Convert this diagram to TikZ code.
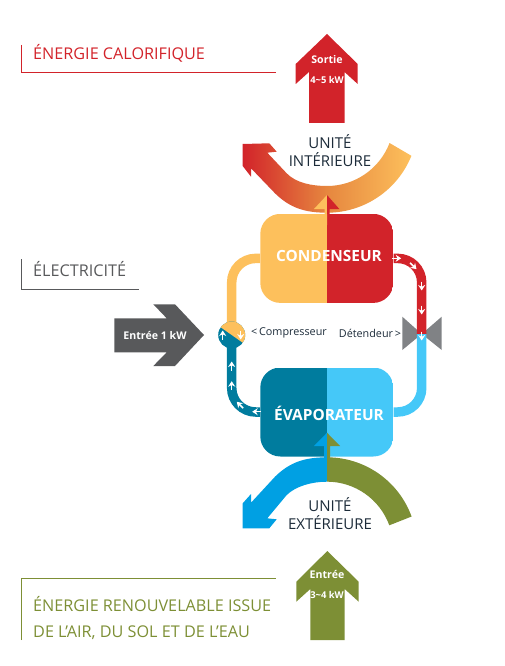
\documentclass[tikz,border=0pt]{standalone}
\usepackage{fontspec}
\setmainfont{Open Sans}
\usetikzlibrary{arrows.meta}

\definecolor{redpac}{HTML}{D2232A}
\definecolor{goldpac}{HTML}{FDC05C}
\definecolor{orangepac}{HTML}{E6873F}
\definecolor{tealpac}{HTML}{007C9E}
\definecolor{skypac}{HTML}{45C8F8}
\definecolor{bluepac}{HTML}{00A0E3}
\definecolor{olivepac}{HTML}{7D8F35}
\definecolor{greypac}{HTML}{58595B}
\definecolor{valvepac}{HTML}{808285}
\definecolor{inkpac}{HTML}{1C2B39}

\newcommand{\smallpower}{\fontsize{9.4}{19.5}\selectfont}

\tikzset{
  exchanger/.style n args={2}{minimum width=133pt,minimum height=89pt,inner sep=0pt,rounded corners=20pt,
    path picture={
      \fill[#1,sharp corners] (path picture bounding box.south west) rectangle (path picture bounding box.north);
      \fill[#2,sharp corners] (path picture bounding box.south) rectangle (path picture bounding box.north east);
    }},
  pipe/.style={line width=9.5pt,rounded corners=24pt},
  flowtip/.style={white,line width=1.5pt,-{Stealth[length=5.5pt,width=7pt]}},
  title/.style={anchor=west,inner sep=0pt,font=\fontsize{16.2}{16.2}\selectfont},
  boxlabel/.style={text=white,font=\fontsize{15.4}{15.4}\selectfont\bfseries},
  unitlabel/.style={text=inkpac,inner sep=0pt,align=center,font=\fontsize{15}{17.5}\selectfont},
  powerlabel/.style={text=white,inner sep=0pt,align=center,font=\fontsize{10.6}{19.5}\selectfont\bfseries},
  devicelabel/.style={text=inkpac,inner sep=0pt,font=\fontsize{10.8}{10.8}\selectfont}
}

\begin{document}
\begin{tikzpicture}[x=1pt,y=1pt,yscale=-1]

\useasboundingbox (0,0) rectangle (505,666);

\draw[redpac] (21,45) -- (21,72.3) -- (276,72.3);
\draw[greypac] (21.3,259) -- (21.3,289.3) -- (139,289.3);
\draw[olivepac] (21,640) -- (21,578.3) -- (276,578.3);

\node[title,text=redpac] (caloriesT) at (33,53) {ÉNERGIE CALORIFIQUE};
\node[title,text=greypac] (electriciteT) at (33,269) {ÉLECTRICITÉ};
\node[title,text=olivepac] (renouvelableT) at (33,604) {ÉNERGIE RENOUVELABLE ISSUE};
\node[title,text=olivepac] (solT) at (33,633) {DE L’AIR, DU SOL ET DE L’EAU};

\fill[redpac] (327,34) -- (357.7,64) -- (357.7,84) -- (344.5,72) -- (344.5,123) -- (309,123) -- (309,72) -- (295.7,84) -- (295.7,64) -- cycle;
\fill[olivepac] (327.3,551) -- (358.7,581.7) -- (358.7,601.7) -- (344.7,589) -- (344.7,640) -- (310.3,640) -- (310.3,589) -- (296.3,601.7) -- (296.3,581.7) -- cycle;
\fill[greypac] (204,335) -- (175,366) -- (153.3,366) -- (166.7,352.3) -- (114.3,352.3) -- (114.3,318.3) -- (166.7,318.3) -- (153.3,304.3) -- (175,304.3) -- cycle;

\node[powerlabel] (sortie) at (327,69.5) {Sortie\\{\smallpower 4\textasciitilde5 kW}};
\node[powerlabel] (entreeAir) at (327,584.5) {Entrée\\{\smallpower 3\textasciitilde4 kW}};
\node[powerlabel] (entreeElec) at (155,335) {Entrée 1 kW};

\shade[left color=redpac,right color=goldpac,middle color=orangepac] (242.7,144) -- (269.3,143.3) -- (276.7,151.7) -- (267.3,152.7) -- (286.7,173.3) .. controls (296,183) and (312,186) .. (327,186) arc (90:21:67) -- (411.4,155.8) arc (22:90:91) .. controls (305,212.7) and (290,208) .. (275,193.3) -- (251,168.3) -- (251,176.7) -- (242.7,166) -- cycle;

\fill[bluepac] (327,457.3) .. controls (305,457.3) and (290,462) .. (275,476.7) -- (251,502.7) -- (251,494) -- (242.7,503.3) -- (242.7,528.3) -- (269.3,528.3) -- (276.7,519.3) -- (267.3,518.3) -- (286.7,495) .. controls (296,486) and (312,481.7) .. (327,481.7) -- cycle;
\fill[olivepac] (327,457.3) arc (-90:-20:90) -- (389.3,525.3) arc (-20:-90:66.3) -- cycle;

\fill[valvepac] (402.3,316.7) -- (421.7,334) -- (402.3,350) -- cycle;
\fill[valvepac] (441.7,316.7) -- (421.7,334) -- (441.7,350) -- cycle;

\coordinate (detendeur) at (421.7,334);
\node[exchanger={goldpac}{redpac}] (condenseur) at (326.8,258.4) {};
\node[exchanger={tealpac}{skypac}] (evaporateur) at (326.8,412) {};
\node[circle,minimum size=27pt,inner sep=0pt] (compresseur) at (231.7,335) {};

\draw[pipe,goldpac] (condenseur.west) -| (compresseur.center);
\draw[pipe,tealpac] (evaporateur.west) -| (compresseur.center);
\draw[pipe,redpac] (condenseur.east) -| (detendeur);
\draw[pipe,skypac] (evaporateur.east) -| (detendeur);

\fill[tealpac] (compresseur) circle (13.5);
\begin{scope}
\clip (compresseur) circle (13.5);
\fill[goldpac] (211.7,321) -- (251.7,349) -- (251.7,315) -- (211.7,315) -- cycle;
\end{scope}

\fill[goldpac] (327,195) -- (314,209) -- (324.5,209) -- (324.5,225) -- (327,225) -- cycle;
\fill[redpac] (327,195) -- (339.3,209) -- (329.5,209) -- (329.5,214) -- (327,214) -- cycle;
\fill[bluepac] (327,432.7) -- (314,446) -- (324,446) -- (324,458) -- (327,458) -- cycle;
\fill[olivepac] (327,432.7) -- (340,446) -- (330,446) -- (330,458) -- (327,458) -- cycle;

\node[boxlabel] (condenseurT) at (329,256) {CONDENSEUR};
\node[boxlabel] (evaporateurT) at (329,413) {ÉVAPORATEUR};

\foreach \px/\py/\ang in {396.7/258.3/0,413.3/266/45,421.7/286/90,421.7/310/90,421.7/336/90,240.7/335/90,222.7/335/-90,231.7/366/-90,231.7/385.7/-90,240/405/-135,256.7/411.7/180}
  \draw[flowtip] (\px,\py) ++(\ang:-4.5) -- ++(\ang:9);

\node[unitlabel] (interieure) at (330,150.5) {UNITÉ\\INTÉRIEURE};
\node[unitlabel] (exterieure) at (330,513.5) {UNITÉ\\EXTÉRIEURE};
\node[devicelabel] (compresseurT) at (289,332.7) {<\,Compresseur};
\node[devicelabel] (detendeurT) at (370,333) {Détendeur\,>};

\end{tikzpicture}
\end{document}
